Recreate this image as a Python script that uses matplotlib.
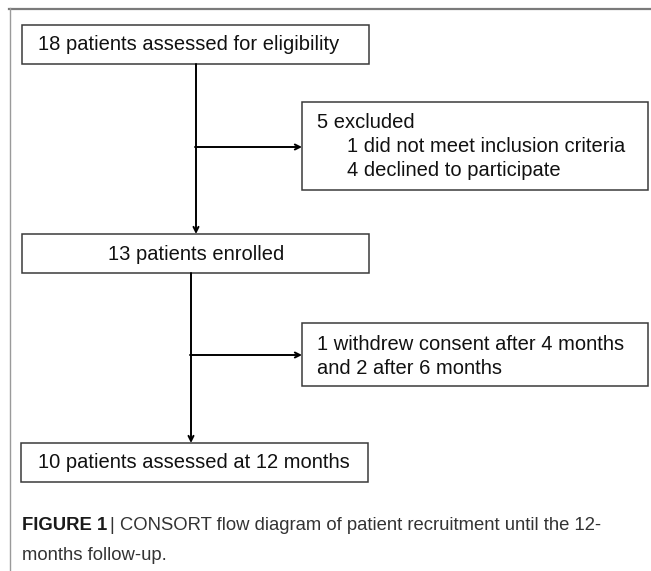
import matplotlib
matplotlib.use("Agg")
import matplotlib.pyplot as plt
from matplotlib.patches import Rectangle

plt.rcParams['font.family'] = ['Liberation Sans', 'DejaVu Sans']

# flow counts
assessed = 18
excluded = 5
not_meeting_criteria = 1
declined = 4
enrolled = 13
withdrew_4m = 1
withdrew_6m = 2
assessed_12m = 10

main_boxes = [
    "%d patients assessed for eligibility" % assessed,
    "%d patients enrolled" % enrolled,
    "%d patients assessed at 12 months" % assessed_12m,
]
excluded_lines = [
    "%d excluded" % excluded,
    "%d did not meet inclusion criteria" % not_meeting_criteria,
    "%d declined to participate" % declined,
]
withdrawn_lines = [
    "%d withdrew consent after 4 months" % withdrew_4m,
    "and %d after 6 months" % withdrew_6m,
]
caption_bold = "FIGURE 1"
caption_line1 = "| CONSORT flow diagram of patient recruitment until the 12-"
caption_line2 = "months follow-up."

W, H = 651, 571
fig = plt.figure(figsize=(W / 100, H / 100), dpi=100)
ax = fig.add_axes([0, 0, 1, 1])
ax.set_xlim(0, W)
ax.set_ylim(H, 0)
ax.axis('off')

# page border lines (top and left)
ax.plot([9, W], [8.5, 8.5], color='#7a7a7a', lw=1.6)
ax.plot([9.5, 9.5], [8, H], color='#9a9a9a', lw=1.0)

box_ec = '#3a3a3a'
fs = 14.5
tc = '#111111'

def box(x0, y0, x1, y1):
    ax.add_patch(Rectangle((x0, y0), x1 - x0, y1 - y0, fill=False,
                           ec=box_ec, lw=1.1))

def arrow(x0, y0, x1, y1):
    ax.annotate("", xy=(x1, y1), xytext=(x0, y0),
                arrowprops=dict(arrowstyle='->', color='black', lw=1.4,
                                shrinkA=0, shrinkB=0, mutation_scale=9))

# main boxes
box(22, 25, 369, 64)
ax.text(38, 45, main_boxes[0], fontsize=fs, va='center', ha='left', color=tc)
box(22, 234, 369, 273)
ax.text(196, 254, main_boxes[1], fontsize=fs, va='center', ha='center', color=tc)
box(21, 443, 368, 482)
ax.text(38, 463, main_boxes[2], fontsize=fs, va='center', ha='left', color=tc)

# side boxes
box(302, 102, 648, 190)
ax.text(317, 123, excluded_lines[0], fontsize=fs, va='center', ha='left', color=tc)
ax.text(347, 147, excluded_lines[1], fontsize=fs, va='center', ha='left', color=tc)
ax.text(347, 171, excluded_lines[2], fontsize=fs, va='center', ha='left', color=tc)
box(302, 323, 648, 386)
ax.text(317, 344, withdrawn_lines[0], fontsize=fs, va='center', ha='left', color=tc)
ax.text(317, 368, withdrawn_lines[1], fontsize=fs, va='center', ha='left', color=tc)

# connectors
arrow(196, 64, 196, 234)
arrow(195, 147, 302, 147)
arrow(191, 273, 191, 443)
arrow(190, 355, 302, 355)

# caption
cfs = 13.3
t = ax.text(22, 526, caption_bold, fontsize=cfs, fontweight='bold',
            va='center', ha='left', color='#1a1a1a')
fig.canvas.draw()
bb = t.get_window_extent()
x_end = ax.transData.inverted().transform((bb.x1, bb.y0))[0]
ax.text(x_end + 3, 526, caption_line1, fontsize=cfs,
        va='center', ha='left', color='#333333')
ax.text(22, 556, caption_line2, fontsize=cfs,
        va='center', ha='left', color='#333333')

fig.savefig("out.png", dpi=100)
